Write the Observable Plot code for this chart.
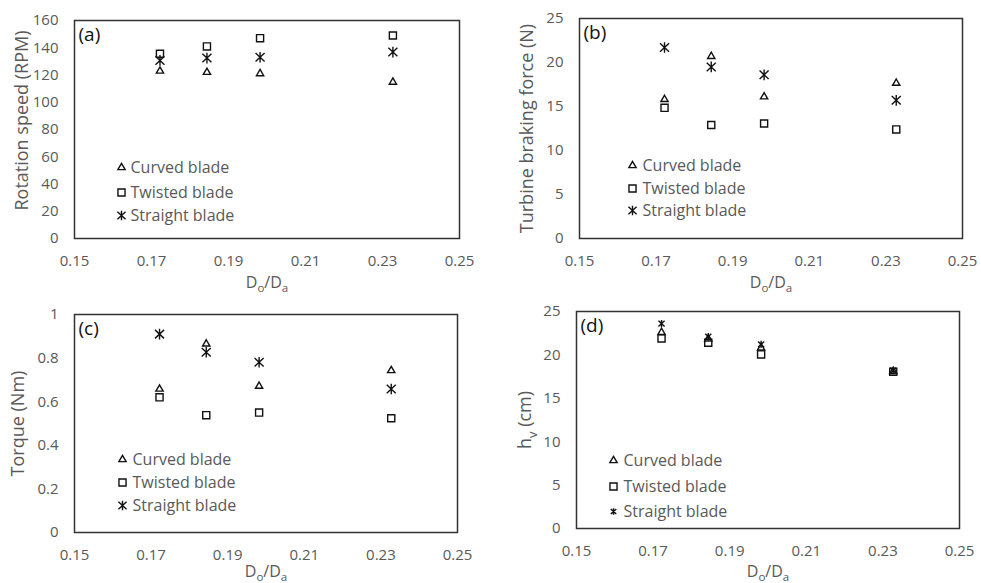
<!DOCTYPE html>
<html><head><meta charset="utf-8">
<script src="https://cdn.jsdelivr.net/npm/d3@7"></script>
<script src="https://cdn.jsdelivr.net/npm/@observablehq/plot@0.6"></script>
<style>
body{margin:0;background:#fff;}
#wrap{position:relative;width:981px;height:583px;overflow:hidden;}
.panel{position:absolute;}
</style></head><body><div id="wrap"></div>
<script>
// ---- data ----
const ratio = [0.1722, 0.1844, 0.1982, 0.2327];          // Do/Da
const series = ["Curved blade", "Twisted blade", "Straight blade"];
const xTicks = [0.15, 0.17, 0.19, 0.21, 0.23, 0.25];

const rpmCurved   = [122.9, 122.0, 121.0, 114.8];
const rpmTwisted  = [135.6, 141.0, 147.0, 149.0];
const rpmStraight = [130.7, 132.4, 133.0, 136.8];
const rpmTicks = [0, 20, 40, 60, 80, 100, 120, 140, 160];

const forceCurved   = [15.8, 20.7, 16.1, 17.65];
const forceTwisted  = [14.85, 12.9, 13.07, 12.4];
const forceStraight = [21.7, 19.5, 18.6, 15.7];
const forceTicks = [0, 5, 10, 15, 20, 25];

const torqueCurved   = [0.658, 0.865, 0.671, 0.743];
const torqueTwisted  = [0.620, 0.538, 0.550, 0.524];
const torqueStraight = [0.910, 0.827, 0.781, 0.658];
const torqueTicks = [0, 0.2, 0.4, 0.6, 0.8, 1];

const hvCurved   = [22.6, 21.85, 20.8, 18.1];
const hvTwisted  = [21.9, 21.4, 20.05, 18.06];
const hvStraight = [23.6, 22.1, 21.2, 18.2];
const hvTicks = [0, 5, 10, 15, 20, 25];

// ---- layout / style ----
const FONT = "'Open Sans', 'DejaVu Sans', sans-serif";
const GRAY = "#595959";
const panels = [
  {tag:"(a)", yLabel:"Rotation speed (RPM)", yMax:160, yTicks:rpmTicks, values:[rpmCurved, rpmTwisted, rpmStraight],
   left:0, top:0, width:490, height:290, m:[20,31,52,74], lab:{dx:-52, dy:-9}, xlabDy:44, leg:{mx:47, tx:56, rows:[-71,-46,-23]}, starR:5},
  {tag:"(b)", yLabel:"Turbine braking force (N)", yMax:25, yTicks:forceTicks, values:[forceCurved, forceTwisted, forceStraight],
   left:490, top:0, width:491, height:290, m:[18,19,52,89], lab:{dx:-52, dy:0}, xlabDy:44, leg:{mx:53, tx:63, rows:[-73,-50,-28]}, starR:5},
  {tag:"(c)", yLabel:"Torque (Nm)", yMax:1, yTicks:torqueTicks, values:[torqueCurved, torqueTwisted, torqueStraight],
   left:0, top:290, width:490, height:293, m:[24,33,51,74], lab:{dx:-56, dy:0}, xlabDy:39, leg:{mx:48, tx:58, rows:[-73,-50,-27]}, starR:5},
  {tag:"(d)", yLabel:"hv (cm)", yMax:25, yTicks:hvTicks, values:[hvCurved, hvTwisted, hvStraight],
   left:490, top:290, width:491, height:293, m:[21,22,55,86], lab:{dx:-51, dy:0}, xlabDy:43, leg:{mx:37, tx:47, rows:[-68,-42,-17]}, starR:3.4}
];
// Excel-style star marker: vertical stroke plus an X
const starSymbol = {
  draw(ctx, size) {
    const h = Math.sqrt(size) * 0.6, w = h * 0.85, k = h * 0.8;
    ctx.moveTo(0, -h); ctx.lineTo(0, h);
    ctx.moveTo(-w, -k); ctx.lineTo(w, k);
    ctx.moveTo(w, -k); ctx.lineTo(-w, k);
  }
};
const symbols = ["triangle", "square", starSymbol];
const radii = [2.7, 4.0, null];

function subscript(svg, plain, parts, size) {
  d3.select(svg).selectAll("text").each(function() {
    if (this.textContent === plain) {
      const t = d3.select(this);
      t.selectAll("*").remove();
      t.text(null);
      const shift = size * 0.3;
      parts.forEach(([s, sub], i) => {
        const sp = t.append("tspan").text(s);
        if (sub) { sp.attr("font-size", size * 0.72).attr("dy", shift); }
        else if (i > 0 && parts[i-1][1]) { sp.attr("dy", -shift); }
      });
    }
  });
}

const wrap = document.getElementById("wrap");
panels.forEach(p => {
  const marks = [
    Plot.frame({stroke: "#333", strokeWidth: 1.5}),
    Plot.axisX({ticks: xTicks, tickSize: 0, tickPadding: 17, tickFormat: d3.format(".2f"), label: null, fill: GRAY}),
    Plot.axisY({ticks: p.yTicks, tickSize: 0, tickPadding: 16, tickFormat: d => `${d}`, label: null, fill: GRAY}),
    Plot.text(["Do/Da"], {frameAnchor: "bottom", dy: p.xlabDy, textAnchor: "middle", lineAnchor: "middle", fill: GRAY, fontSize: 16}),
    Plot.text([p.yLabel], {frameAnchor: "left", dx: p.lab.dx, dy: p.lab.dy, rotate: -90, textAnchor: "middle", lineAnchor: "middle", fill: GRAY, fontSize: 18}),
    Plot.text([p.tag], {frameAnchor: "top-left", dx: 4, dy: 14, textAnchor: "start", lineAnchor: "middle", fill: "#111", fontSize: 19})
  ];
  series.forEach((s, si) => {
    const rows = ratio.map((x, i) => ({x, y: p.values[si][i]}));
    const r = si === 2 ? p.starR : radii[si];
    marks.push(Plot.dot(rows, {x: "x", y: "y", symbol: symbols[si], r, fill: "none", stroke: "#111", strokeWidth: 1.4}));
    marks.push(Plot.dot([s], {frameAnchor: "bottom-left", dx: p.leg.mx, dy: p.leg.rows[si], symbol: symbols[si], r: si === 2 ? p.starR * 0.9 : radii[si], fill: "none", stroke: "#111", strokeWidth: 1.4}));
    marks.push(Plot.text([s], {text: d => d, frameAnchor: "bottom-left", dx: p.leg.tx, dy: p.leg.rows[si], textAnchor: "start", lineAnchor: "middle", fill: GRAY, fontSize: 16}));
  });
  const svg = Plot.plot({
    width: p.width, height: p.height,
    marginTop: p.m[0], marginRight: p.m[1], marginBottom: p.m[2], marginLeft: p.m[3],
    x: {domain: [0.15, 0.25]},
    y: {domain: [0, p.yMax]},
    style: {fontFamily: FONT, fontSize: "15px", color: GRAY, background: "transparent", overflow: "visible"},
    marks
  });
  subscript(svg, "Do/Da", [["D",0],["o",1],["/D",0],["a",1]], 16);
  subscript(svg, "hv (cm)", [["h",0],["v",1],[" (cm)",0]], 18);
  const div = document.createElement("div");
  div.className = "panel";
  div.style.left = p.left + "px"; div.style.top = p.top + "px";
  div.appendChild(svg);
  wrap.appendChild(div);
});
</script>
</body></html>
